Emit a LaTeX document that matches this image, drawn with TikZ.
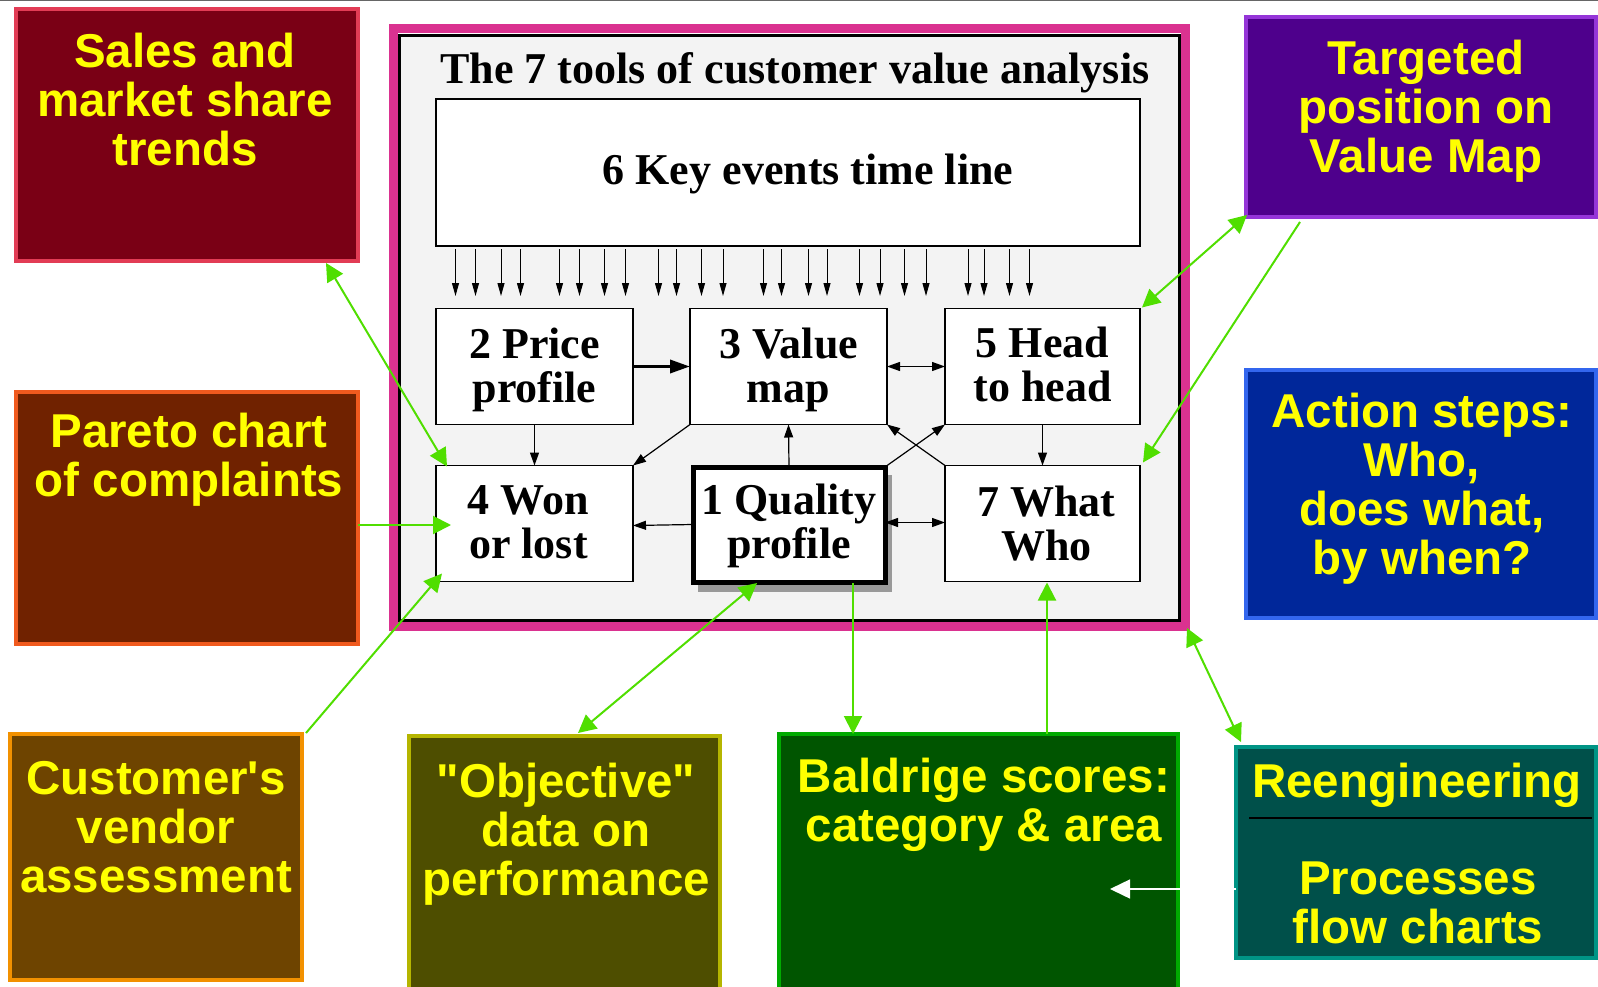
\documentclass[tikz,border=0pt]{standalone}
\usepackage{fontspec}
\setmainfont{Liberation Serif}
\setsansfont{Liberation Sans}
\usetikzlibrary{arrows.meta,calc}
\definecolor{lgreen}{RGB}{80,222,0}
\definecolor{pinkf}{HTML}{DA3290}
\definecolor{panelbg}{HTML}{F3F3F3}
\definecolor{salesF}{HTML}{7A0015}\definecolor{salesD}{HTML}{E23C55}
\definecolor{paretoF}{HTML}{702200}\definecolor{paretoD}{HTML}{F05A1E}
\definecolor{custF}{HTML}{6E4400}\definecolor{custD}{HTML}{F29100}
\definecolor{objF}{HTML}{4E4E00}\definecolor{objD}{HTML}{B5B500}
\definecolor{balF}{HTML}{005500}\definecolor{balD}{HTML}{00AA00}
\definecolor{reF}{HTML}{00504A}\definecolor{reD}{HTML}{009485}
\definecolor{actF}{HTML}{00279A}\definecolor{actD}{HTML}{3366EE}
\definecolor{tgtF}{HTML}{4E008C}\definecolor{tgtD}{HTML}{9535D8}
\definecolor{ylw}{HTML}{FFFF00}
\newcommand\ylwfont{\sffamily\bfseries\fontsize{47.5}{49}\selectfont}
\newcommand\serfont{\rmfamily\bfseries\fontsize{44}{44}\selectfont}
\newcommand\twoline[3]{\raisebox{#1}[\height][\depth]{\begin{tabular}{@{}c@{}}#2\\#3\end{tabular}}}
\tikzset{
  colbox/.style={draw, line width=4pt, inner sep=0pt, outer sep=0pt},
  ytext/.style={text=ylw, font=\ylwfont, align=center, inner sep=0pt, anchor=base},
  wbox/.style={draw, fill=white, line width=1.5pt, inner sep=0pt, outer sep=0pt,
    minimum width=197pt, minimum height=116pt, font=\serfont},
  karrow/.style={draw=black, line width=1pt, -{Triangle[length=13pt,width=7pt]}},
  barrow/.style={draw=black, line width=1.2pt, -{Triangle[length=13pt,width=9pt]}},
  bdbl/.style={draw=black, line width=1.2pt, {Triangle[length=13pt,width=9pt]}-{Triangle[length=13pt,width=9pt]}},
  garrow/.style={draw=lgreen, line width=2pt, -{Triangle[length=18pt,width=18pt]}},
  gdbl/.style={draw=lgreen, line width=2pt, {Triangle[length=18pt,width=18pt]}-{Triangle[length=18pt,width=18pt]}},
}
\begin{document}
\begin{tikzpicture}[x=1pt,y=-1pt]
\useasboundingbox (0,0) rectangle (1598,987);
\clip (0,0) rectangle (1598,987);
\fill[white] (0,0) rectangle (1598,987);
\draw[black!60, line width=1pt] (0,0.5) -- (1598,0.5);

% ---- central frame ----
\node[draw=pinkf, line width=9pt, inner sep=0pt, outer sep=0pt,
  minimum width=792.5pt, minimum height=597.5pt] (frame) at (789.25,327.25) {};
\node[draw=black, fill=panelbg, line width=3pt, inner sep=0pt, outer sep=0pt,
  minimum width=780pt, minimum height=584pt] (panel) at (789,328) {};
\node[font=\serfont, anchor=base, inner sep=0pt] (title) at (795,84) {The 7 tools of customer value analysis};

\node[draw, fill=white, line width=2pt, inner sep=0pt, outer sep=0pt,
  minimum width=704pt, minimum height=147pt] (keyev) at (788,172.5) {};
\node[font=\serfont, anchor=base, inner sep=0pt] (keytxt) at (808,185) {6 Key events time line};
\foreach \d in {19.5,39.5,65,84.5,123.5,143.5,168.5,189.5,222.5,240.5,265.5,287,327.5,345.5,372.5,391,423.5,444,468.5,490,532,548,573.5,593.5}
  \draw[karrow] ($(keyev.south west)+(\d,3)$) -- ++(0,47);

\node[wbox] (price) at (534.5,366.5) {\twoline{-5pt}{2 Price}{profile}};
\node[wbox] (value) at (788.5,366.5) {\twoline{-5pt}{3 Value}{map}};
\node[wbox, minimum width=195pt] (head) at (1042.5,366.5) {\twoline{-4pt}{5 Head}{to head}};
\node[wbox] (won) at (534.5,523.5) {\hspace*{-12pt}\twoline{-4pt}{4 Won}{or lost}};
\node[fill=black!40, inner sep=0pt, minimum width=194pt, minimum height=117pt] (qshadow) at (795,533.5) {};
\node[wbox, line width=5pt, minimum width=192pt, minimum height=115pt] (quality) at (789,524.5) {\twoline{-3pt}{1 Quality}{profile}};
\node[wbox, minimum width=195pt] (what) at (1042.5,523.5) {\hspace*{8pt}\twoline{-6pt}{7 What}{Who}};

\draw[draw=black, line width=3.5pt, -{Triangle[length=20pt,width=13pt]}] (price.east) -- (value.west);
\draw[bdbl] (value.east) -- (head.west);
\draw[barrow] (price.south) -- (won.north);
\draw[barrow] (value.south west) -- (won.north east);
\draw[barrow] (quality.north) -- (value.south);
\draw[barrow] (quality.west) -- ($(won.east)+(0,2)$);
\draw[bdbl] ($(quality.east)+(0,-2)$) -- ($(what.west)+(0,-1)$);
\draw[barrow] (head.south) -- (what.north);
\draw[barrow] (what.north west) -- (value.south east);
\draw[barrow] (quality.north east) -- (head.south west);

% ---- coloured boxes ----
\node[colbox, draw=salesD, fill=salesF, minimum width=342pt, minimum height=252pt] (sales) at (187,135) {};
\node[ytext] (tsales) at (185,166) {Sales and\\market share\\trends};

\node[colbox, draw=paretoD, fill=paretoF, minimum width=342pt, minimum height=252pt] (pareto) at (187,518) {};
\node[ytext] (tpareto) at (189,496) {Pareto chart\\of complaints};

\node[colbox, draw=custD, fill=custF, minimum width=292pt, minimum height=246pt] (cust) at (156,857) {};
\node[ytext] (tcust) at (156,892) {Customer\textquotesingle s\\vendor\\assessment};

\node[colbox, draw=objD, fill=objF, minimum width=311pt, minimum height=264pt] (objective) at (564.5,868) {};
\node[ytext] (tobj) at (566,895) {\textquotedbl Objective\textquotedbl\\data on\\performance};

\node[colbox, draw=balD, fill=balF, minimum width=399pt, minimum height=266pt] (baldrige) at (978.5,867) {};
\node[ytext] (tbal) at (984,841) {Baldrige scores:\\category \& area};

\node[colbox, draw=reD, fill=reF, minimum width=360pt, minimum height=211pt] (reeng) at (1416,852.5) {};
\node[ytext] (treeng) at (1417,797) {Reengineering};
\draw[black, line width=2pt] ($(reeng.north west)+(13,71)$) -- ($(reeng.north east)+(-4,71)$);
\node[ytext] (tproc) at (1418,943) {Processes\\flow charts};

\node[colbox, draw=actD, fill=actF, minimum width=350pt, minimum height=248pt] (action) at (1421,494) {};
\node[ytext] (tact) at (1422,574) {Action steps:\\Who,\\does what,\\by when?};

\node[colbox, draw=tgtD, fill=tgtF, minimum width=350pt, minimum height=200pt] (target) at (1421,117) {};
\node[ytext] (ttgt) at (1426,173) {Targeted\\position on\\Value Map};

% ---- green connectors ----
\draw[gdbl] ($(sales.south east)+(-32,2)$) -- ($(won.north west)+(11,1)$);
\draw[garrow] ($(pareto.east)+(0,7)$) -- ($(won.west)+(15,1.5)$);
\draw[garrow] ($(cust.north east)+(4,-1)$) -- ($(won.south west)+(6,-8)$);
\draw[gdbl] ($(objective.north)+(13.5,-3)$) -- ($(quality.south)+(-32,1)$);
\draw[garrow] ($(quality.south)+(64,1)$) -- ($(baldrige.north west)+(74,0)$);
\draw[garrow] ($(baldrige.north west)+(268,0)$) -- ($(what.south)+(4.5,1)$);
\draw[gdbl] ($(frame.south east)+(1.5,2)$) -- ($(reeng.north west)+(5,-5)$);
\draw[gdbl] ($(target.south west)+(1,-2)$) -- ($(head.north east)+(2,-1)$);
\draw[garrow] ($(target.south west)+(54,5)$) -- ($(what.north east)+(3,-3)$);
\draw[draw=white, line width=1.5pt, -{Triangle[length=20pt,width=19pt]}] ($(reeng.west)+(0,36.5)$) -- ($(baldrige.east)+(-68,22)$);
\end{tikzpicture}
\end{document}
